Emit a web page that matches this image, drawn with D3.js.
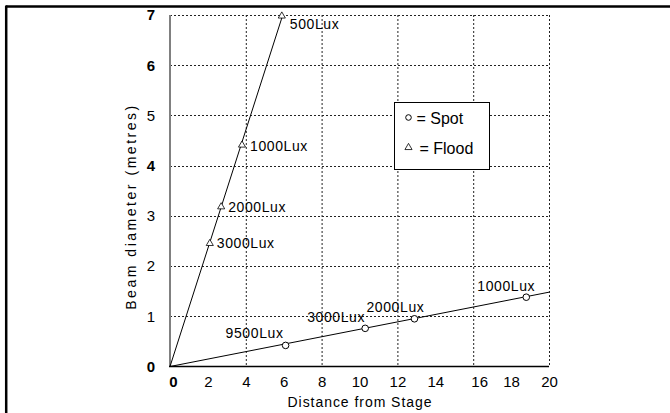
<!DOCTYPE html>
<html>
<head>
<meta charset="utf-8">
<script src="https://cdn.jsdelivr.net/npm/d3@7"></script>
<style>
  html, body { margin: 0; padding: 0; background: #fff; overflow: hidden; }
  svg { display: block; }
  text { font-family: Arial, "Liberation Sans", sans-serif; fill: #000; }
</style>
</head>
<body>
<svg id="chart" width="670" height="413"></svg>
<script>
// spot lantern readings
const spotDistance = [6.1, 10.3, 12.9, 18.8];
const spotDiameter = [0.42, 0.76, 0.95, 1.38];
const spotLux = ['9500Lux', '3000Lux', '2000Lux', '1000Lux'];
const spotLineEnd = [20, 1.48];

// flood lantern readings
const floodDistance = [2.1, 2.7, 3.8, 5.9];
const floodDiameter = [2.47, 3.2, 4.43, 7.0];
const floodLux = ['3000Lux', '2000Lux', '1000Lux', '500Lux'];
const floodLineEnd = [5.95, 7.0];

const xTicks = [0, 2, 4, 6, 8, 10, 12, 14, 16, 18, 20];
const yTicks = [0, 1, 2, 3, 4, 5, 6, 7];
const xGrid = [4, 8, 12, 16, 20];
const yGrid = [1, 2, 3, 4, 5, 6, 7];

const svg = d3.select('#chart');
const margin = {left: 170, top: 15, right: 121, bottom: 46};
const width = 670, height = 413;
const innerWidth = width - margin.left - margin.right;
const innerHeight = height - margin.top - margin.bottom - 0.5;

// frame (top + left edges only)
svg.append('line').attr('x1', 6).attr('x2', 670).attr('y1', 6.5).attr('y2', 6.5)
  .attr('stroke', '#000').attr('stroke-width', 2.5);
svg.append('line').attr('x1', 6.2).attr('x2', 6.2).attr('y1', 5.5).attr('y2', 413)
  .attr('stroke', '#000').attr('stroke-width', 2.5);

const g = svg.append('g').attr('transform', `translate(${margin.left},${margin.top})`);

const xScale = d3.scaleLinear().domain([0, 20]).range([0, innerWidth]);
const yScale = d3.scaleLinear().domain([0, 7]).range([innerHeight, 0]);

// dotted grid
g.selectAll('.vgrid').data(xGrid).enter().append('line')
  .attr('class', 'vgrid')
  .attr('x1', d => xScale(d) + 0.5).attr('x2', d => xScale(d) + 0.5)
  .attr('y1', 0).attr('y2', innerHeight)
  .attr('stroke', '#222').attr('stroke-width', 1).attr('stroke-dasharray', '2,2');
g.selectAll('.hgrid').data(yGrid).enter().append('line')
  .attr('class', 'hgrid')
  .attr('x1', 0).attr('x2', innerWidth)
  .attr('y1', d => Math.round(yScale(d)) + 0.5).attr('y2', d => Math.round(yScale(d)) + 0.5)
  .attr('stroke', '#222').attr('stroke-width', 1).attr('stroke-dasharray', '2,2');

// axes
const xAxis = d3.axisBottom(xScale).tickValues(xTicks).tickSize(0).tickPadding(10)
  .tickFormat(d3.format('d'));
const xAxisG = g.append('g').attr('transform', `translate(0,${innerHeight})`).call(xAxis);
xAxisG.select('.domain').remove();
xAxisG.selectAll('text').attr('font-size', 15).attr('font-weight', d => d === 0 ? 'bold' : 'normal')
  .attr('dx', d => d === 0 ? 3 : (d === 16 ? 6 : 0));

const yAxis = d3.axisLeft(yScale).tickValues(yTicks).tickSize(0).tickPadding(15)
  .tickFormat(d3.format('d'));
const yAxisG = g.append('g').call(yAxis);
yAxisG.select('.domain').remove();
yAxisG.selectAll('text').attr('font-size', 15)
  .attr('font-weight', d => [0, 4, 6, 7].includes(d) ? 'bold' : 'normal');

g.append('line').attr('x1', 0).attr('x2', 0).attr('y1', 0).attr('y2', innerHeight)
  .attr('stroke', '#808080').attr('stroke-width', 2);
g.append('line').attr('x1', -1).attr('x2', innerWidth).attr('y1', innerHeight).attr('y2', innerHeight)
  .attr('stroke', '#000').attr('stroke-width', 1.5);

// axis titles
g.append('text')
  .attr('transform', 'rotate(-90)')
  .attr('x', -(innerHeight / 2) - 17)
  .attr('y', -34)
  .attr('text-anchor', 'middle')
  .attr('font-size', 14)
  .attr('textLength', 204).attr('lengthAdjust', 'spacing')
  .text('Beam diameter (metres)');

g.append('text')
  .attr('x', innerWidth / 2)
  .attr('y', innerHeight + 40)
  .attr('text-anchor', 'middle')
  .attr('font-size', 14)
  .attr('textLength', 144).attr('lengthAdjust', 'spacing')
  .text('Distance from Stage');

// trend lines
const line = d3.line().x(d => xScale(d[0])).y(d => yScale(d[1]));
g.append('path').datum([[0, 0], spotLineEnd])
  .attr('d', line).attr('fill', 'none').attr('stroke', '#000').attr('stroke-width', 1);
g.append('path').datum([[0, 0], floodLineEnd])
  .attr('d', line).attr('fill', 'none').attr('stroke', '#000').attr('stroke-width', 1);

const spot = spotDistance.map((d, i) => ({x: d, y: spotDiameter[i], lux: spotLux[i], i}));
const flood = floodDistance.map((d, i) => ({x: d, y: floodDiameter[i], lux: floodLux[i], i}));

const tri = d3.symbol().type(d3.symbolTriangle).size(22);

// markers
g.selectAll('.spot').data(spot).enter().append('circle')
  .attr('class', 'spot')
  .attr('cx', d => xScale(d.x)).attr('cy', d => yScale(d.y)).attr('r', 3.3)
  .attr('fill', '#fff').attr('stroke', '#000').attr('stroke-width', 1);

g.selectAll('.flood').data(flood).enter().append('path')
  .attr('class', 'flood')
  .attr('transform', d => `translate(${xScale(d.x)},${yScale(d.y) + 1})`)
  .attr('d', tri)
  .attr('fill', '#fff').attr('stroke', '#000').attr('stroke-width', 0.8);

// lux labels
const spotOffset = [[-60, -7], [-58, -6], [-48, -7], [-49, -6]];
g.selectAll('.spotLabel').data(spot).enter().append('text')
  .attr('class', 'spotLabel')
  .attr('x', d => xScale(d.x) + spotOffset[d.i][0])
  .attr('y', d => yScale(d.y) + spotOffset[d.i][1])
  .attr('font-size', 14).attr('letter-spacing', 0.6)
  .text(d => d.lux);

const floodOffset = [[7, 6], [7, 6], [8, 7], [8, 14]];
g.selectAll('.floodLabel').data(flood).enter().append('text')
  .attr('class', 'floodLabel')
  .attr('x', d => xScale(d.x) + floodOffset[d.i][0])
  .attr('y', d => yScale(d.y) + floodOffset[d.i][1])
  .attr('font-size', 14).attr('letter-spacing', 0.6)
  .text(d => d.lux);

// legend
const legend = svg.append('g').attr('transform', 'translate(394.5,102.5)');
legend.append('rect').attr('width', 95).attr('height', 67)
  .attr('fill', '#fff').attr('stroke', '#000').attr('stroke-width', 1);
legend.append('circle').attr('cx', 14).attr('cy', 15).attr('r', 2.8)
  .attr('fill', '#fff').attr('stroke', '#000').attr('stroke-width', 1);
legend.append('text').attr('x', 22).attr('y', 21).attr('font-size', 16).text('= Spot');
legend.append('path').attr('transform', 'translate(14,45)')
  .attr('d', tri).attr('fill', '#fff').attr('stroke', '#000').attr('stroke-width', 0.8);
legend.append('text').attr('x', 25).attr('y', 51).attr('font-size', 16).text('= Flood');
</script>
</body>
</html>
